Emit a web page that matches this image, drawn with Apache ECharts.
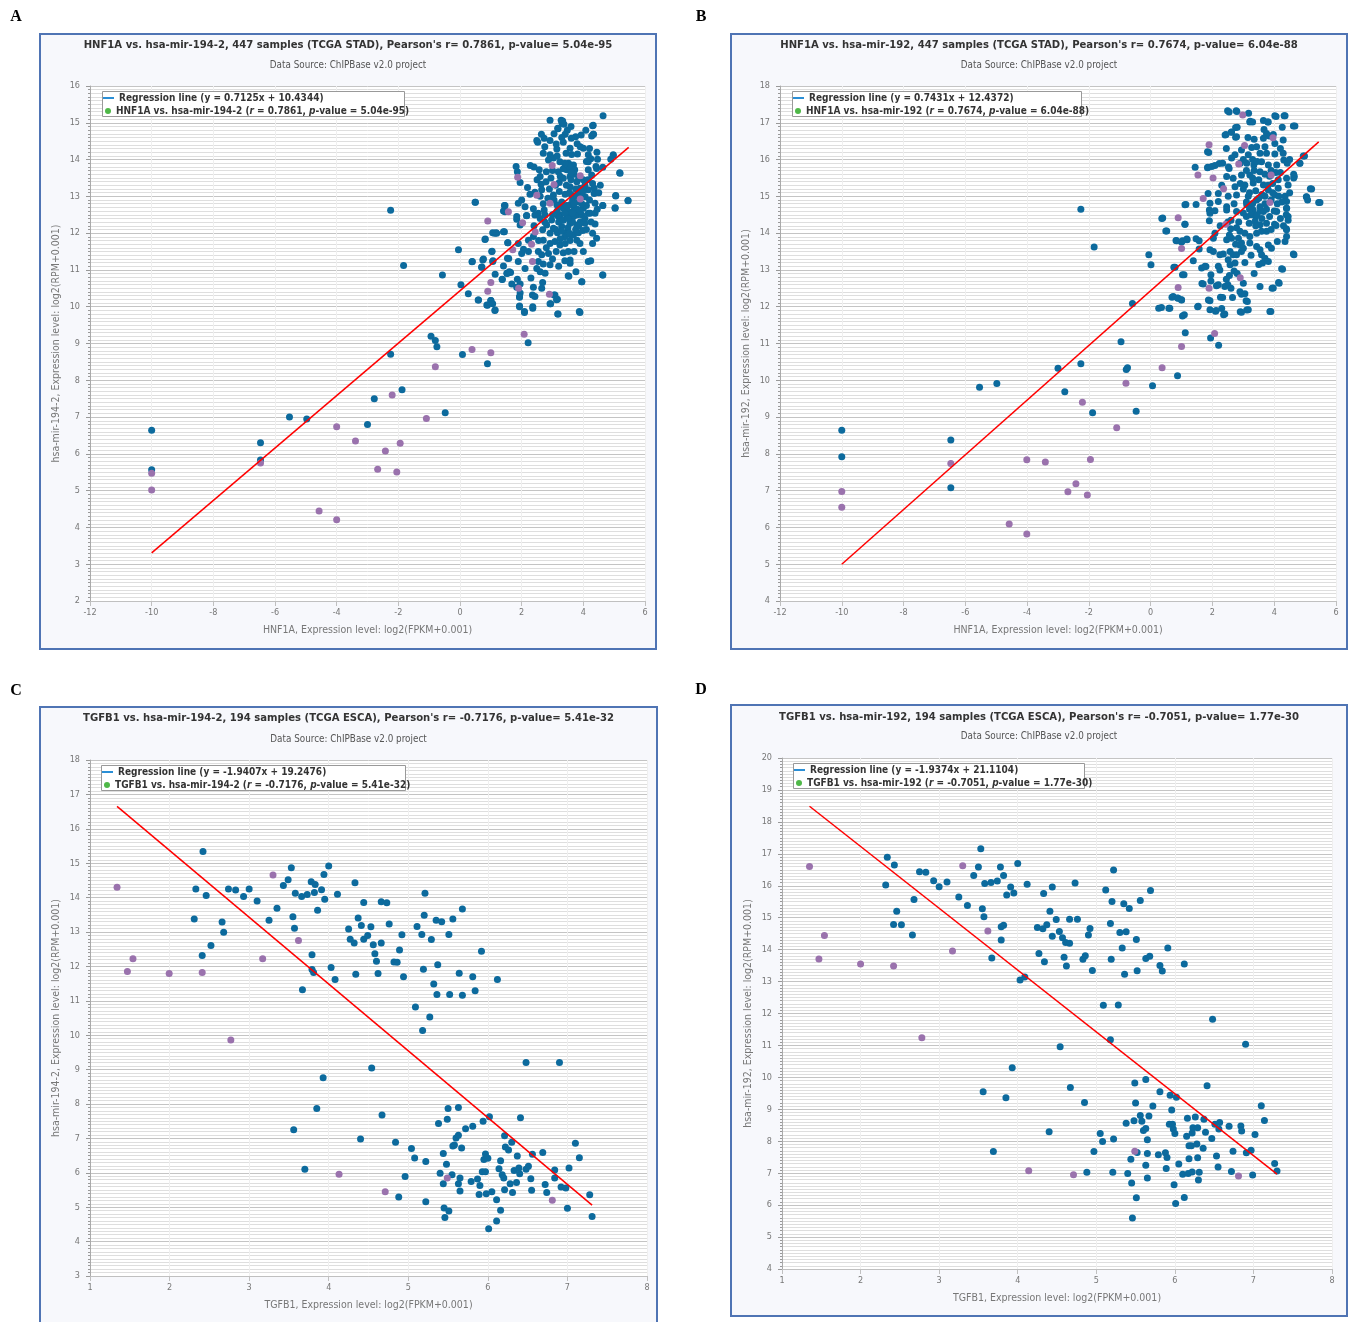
<!DOCTYPE html>
<html><head><meta charset="utf-8">
<script src="https://cdn.jsdelivr.net/npm/echarts@6/dist/echarts.min.js"></script>
<style>html,body{margin:0;padding:0;background:#fff}#c{width:1348px;height:1322px}</style>
</head><body><div id="c"></div>
<script>
// ---------------- DATA ----------------
const titles = [
 "HNF1A vs. hsa-mir-194-2, 447 samples (TCGA STAD), Pearson's r= 0.7861, p-value= 5.04e-95",
 "HNF1A vs. hsa-mir-192, 447 samples (TCGA STAD), Pearson's r= 0.7674, p-value= 6.04e-88",
 "TGFB1 vs. hsa-mir-194-2, 194 samples (TCGA ESCA), Pearson's r= -0.7176, p-value= 5.41e-32",
 "TGFB1 vs. hsa-mir-192, 194 samples (TCGA ESCA), Pearson's r= -0.7051, p-value= 1.77e-30"
];
const subtitle = "Data Source: ChIPBase v2.0 project";
const panelLetters = ["A","B","C","D"];
const xNames = ["HNF1A, Expression level: log2(FPKM+0.001)","HNF1A, Expression level: log2(FPKM+0.001)","TGFB1, Expression level: log2(FPKM+0.001)","TGFB1, Expression level: log2(FPKM+0.001)"];
const yNames = ["hsa-mir-194-2, Expression level: log2(RPM+0.001)","hsa-mir-192, Expression level: log2(RPM+0.001)","hsa-mir-194-2, Expression level: log2(RPM+0.001)","hsa-mir-192, Expression level: log2(RPM+0.001)"];
const regTexts = ["Regression line (y = 0.7125x + 10.4344)","Regression line (y = 0.7431x + 12.4372)","Regression line (y = -1.9407x + 19.2476)","Regression line (y = -1.9374x + 21.1104)"];
const pairNames = ["HNF1A vs. hsa-mir-194-2","HNF1A vs. hsa-mir-192","TGFB1 vs. hsa-mir-194-2","TGFB1 vs. hsa-mir-192"];
const rValues = ["0.7861","0.7674","-0.7176","-0.7051"];
const pValues = ["5.04e-95","6.04e-88","5.41e-32","1.77e-30"];

const xRanges = [[-12,6,2],[-12,6,2],[1,8,1],[1,8,1]];
const yRanges = [[2,16,1],[4,18,1],[3,18,1],[4,20,1]];

const aReg = [[-10,3.31],[5.47,14.33]];
const bReg = [[-10,5.0],[5.44,16.48]];
const cReg = [[1.34,16.65],[7.31,5.06]];
const dReg = [[1.35,18.49],[7.30,6.97]];

const aBlue = [[-10,6.64],[-10,5.57],[-6.47,6.30],[-6.47,5.83],[-5.53,7.0],[-4.97,6.95],[-3.0,6.80],[-2.78,7.50],[-2.25,12.62],[-2.25,8.71],[-1.83,11.12],[-1.88,7.74],[-0.94,9.20],[-0.80,9.08],[-0.75,8.91],[-0.57,10.86],[-0.48,7.12],[-0.05,11.55],[0.03,10.60],[0.08,8.70],[0.27,10.35],[0.39,11.22],[0.50,12.84],[0.59,10.18],[0.71,11.08],[0.76,11.30],[0.82,11.84],[0.89,8.45],[0.89,10.04],[1.0,10.17],[1.04,11.51],[1.07,11.25],[1.13,9.90],[1.12,12.0],[1.19,12.0],[1.37,10.74],[1.46,12.75],[1.46,12.6],[1.44,12.04],[1.55,11.74],[1.58,11.31],[1.53,10.9],[1.64,10.93],[2.21,9.02],
[4.64,15.19],[5.45,12.89],[5.18,13.64],[5.05,13.01],[5.03,12.68],[4.97,14.13],[4.63,12.75],[4.63,10.86],[4.32,14.93],[4.32,14.69],[3.95,10.68],[3.89,9.84],[3.18,9.80],[3.53,10.83],[3.13,10.19],[3.05,10.32],[2.94,10.08],[2.36,9.96],[2.09,9.84],[1.93,10.02],[1.93,10.27],[2.92,15.07],[3.31,14.99],[3.28,15.07],[3.18,14.84],[4.27,14.64],[4.44,14.2],
[3.33,15.05],[3.37,14.96],[3.17,14.85],[3.48,14.80],[4.08,14.80],[4.30,14.92],[4.33,14.69],[3.93,14.67],[3.75,14.62],[3.61,14.58],[3.41,14.69],[3.30,14.60],[2.64,14.69],[2.73,14.58],[2.49,14.52],[2.52,14.47],[2.92,14.52],[3.12,14.42],[3.14,14.29],[3.35,14.47],[3.80,14.43],[3.57,14.31],[4.0,14.31],[3.44,14.17],[3.62,14.14],[3.81,14.15],[4.16,14.13],[4.24,14.02],[4.46,14.01],[4.97,14.11],[4.89,14.01],[2.70,14.17],[2.92,14.13],[3.03,14.04],[2.87,13.99],[3.24,13.94],[3.52,13.90],[3.68,13.85],[4.16,13.94],[4.41,13.81],[4.63,13.79],[1.82,13.81],[1.86,13.67],[2.28,13.84],[2.57,13.72],[2.80,13.67],[3.19,13.67],[3.46,13.72],[3.72,13.72],[4.0,13.45],[4.16,13.72],[4.27,13.58],[4.43,13.76],[5.19,13.63],[1.95,13.38],[2.60,13.54],[2.63,13.33],[2.79,13.40],[3.22,13.38],[3.35,13.49],[3.57,13.54],[3.79,13.40],[3.57,13.26],[3.89,13.22],[4.16,13.18],[4.35,13.22],[4.35,13.08],[2.19,13.24],[2.27,13.06],[2.43,13.11],[2.65,13.18],[3.03,13.04],[3.22,13.13],[3.41,13.06],[3.62,13.04],[3.84,13.11],[4.06,12.99],[5.05,13.02],[5.45,12.88],[5.03,12.69],[4.63,12.75],[4.38,12.81],[2.0,12.90],[1.89,12.81],[1.44,12.75],[1.41,12.60],[0.49,12.84],[2.11,12.72],[2.38,12.66],[2.54,12.54],[2.73,12.63],[3.14,12.77],[3.35,12.68],[3.57,12.77],[3.70,12.63],[4.0,12.68],[4.16,12.54],[3.25,12.49],[3.51,12.49],[3.79,12.49],[1.84,12.45],[2.16,12.48],
[1.46,12.58],[1.84,12.38],[1.95,12.22],[2.16,12.47],[2.43,12.49],[2.60,12.40],[2.76,12.49],[2.97,12.36],[3.19,12.45],[3.46,12.49],[3.68,12.45],[3.95,12.49],[4.22,12.54],[4.38,12.54],[4.38,12.25],[4.05,12.27],[3.79,12.22],[3.57,12.27],[3.30,12.18],[3.03,12.13],[2.81,12.22],[2.68,12.09],[2.92,12.0],[3.16,12.01],[3.46,12.0],[3.68,11.95],[3.84,12.01],[3.98,12.07],[1.06,12.01],[1.17,12.01],[1.41,12.04],[0.81,11.83],[2.38,11.91],[2.22,11.81],[1.89,11.72],[1.55,11.74],[2.70,11.81],[2.92,11.72],[3.08,11.77],[3.24,11.68],[3.41,11.72],[3.57,11.80],[3.79,11.81],[3.89,11.72],[4.30,11.72],[4.43,11.86],[1.03,11.50],[2.06,11.56],[2.0,11.45],[2.22,11.50],[2.54,11.50],[2.65,11.41],[2.87,11.45],[3.12,11.50],[3.35,11.47],[3.51,11.50],[0.40,11.23],[0.74,11.27],[1.06,11.23],[1.54,11.32],[1.89,11.23],[2.54,11.23],[2.70,11.16],[2.92,11.14],[3.57,11.27],[3.57,11.18],[4.16,11.23],[4.24,11.25],[0.70,11.07],[1.41,11.11],[2.11,11.04],[2.49,11.04],[2.60,10.95],[2.76,10.91],[3.76,10.95],[1.14,10.88],[1.52,10.91],[1.60,10.95],[1.37,10.75],[1.86,10.75],[2.30,10.78],[2.68,10.66],[3.51,10.84],[4.63,10.86],[1.68,10.62],[1.95,10.62],[1.84,10.53],[2.38,10.53],[2.65,10.50],[3.95,10.68],[1.95,10.37],[1.93,10.26],[2.35,10.32],[2.43,10.28],[3.08,10.32],[3.16,10.20],[0.60,10.18],[0.87,10.05],[1.0,10.17],[1.06,10.08],[1.14,9.91],[1.93,10.0],[2.36,10.0],[2.92,10.08],[2.09,9.87],[3.17,9.80],[3.87,9.87],
[3.05,12.9],[3.15,12.6],[3.3,12.85],[3.45,12.75],[3.55,13.1],[3.65,12.9],[3.75,13.2],[3.85,12.85],[3.95,13.0],[3.2,12.3],[3.35,12.35],[3.5,12.15],[3.65,12.3],[3.8,12.65],[3.9,12.3],[4.05,12.4],[3.1,13.3],[3.25,13.55],[3.45,13.3],[3.6,13.45],[3.7,13.6],[3.85,13.5],[4.05,13.3],[4.2,12.9],[3.3,12.05],[3.4,11.9],[3.6,11.95],[3.0,12.5],[3.5,12.6],[3.7,12.8],[3.9,12.6],[4.1,12.75],[3.35,13.75],[3.55,13.8],[3.15,14.1],[2.95,13.5],[2.85,12.95],[3.25,11.85],[2.75,12.3],[4.1,13.95],
[2.6,13.0],[2.7,12.8],[2.9,13.2],[3.0,13.7],[3.1,12.1],[3.2,12.75],[3.4,12.55],[3.4,13.9],[3.5,12.4],[3.55,12.0],[3.6,13.65],[3.65,12.55],[3.75,12.1],[3.8,13.0],[3.85,12.2],[3.95,12.8],[4.0,13.15],[4.1,12.1],[4.15,13.45],[4.25,12.3],[4.3,13.35],[4.3,12.0],[4.45,12.65],[4.5,13.1],[2.4,12.2],[2.55,11.8],[2.8,11.6],[3.0,11.3],[3.2,11.1],[3.4,11.25],[3.7,11.5],[4.0,11.5],[2.5,13.45],[2.4,13.8],[2.75,14.35],[3.05,14.7],[3.6,14.9],[3.9,14.35],[4.2,14.3],[4.55,13.3]];
const aPurple = [[-10,5.47],[-10,5.02],[-6.47,5.75],[0.9,12.33],[1.0,10.66],[0.9,10.42],[0.39,8.84],[1.0,8.75],[-0.8,8.37],[2.08,9.25],[-2.2,7.6],[-1.09,6.96],[-4.0,6.74],[-3.39,6.35],[-2.42,6.08],[-1.94,6.29],[-2.67,5.58],[-2.05,5.51],[-4.57,4.45],[-4.0,4.21],[1.57,12.58],[2.03,12.28],[1.71,11.55],[1.90,10.5],[2.35,11.23],[2.32,11.70],[2.44,12.03],[2.90,10.34],[2.49,13.03],[3.05,13.32],[2.92,12.81],[2.99,13.84],[1.87,13.52],[3.9,13.56],[3.9,12.93]];

const bBlue = [[-10,8.64],[-10,7.92],[-6.47,8.38],[-6.47,7.08],[-5.54,9.81],[-4.98,9.91],[-3.0,10.33],[-2.78,9.69],[-2.26,14.65],[-2.26,10.45],[-1.83,13.62],[-1.88,9.12],[-0.96,11.05],[-0.79,10.29],[-0.75,10.34],[-0.59,12.09],[-0.47,9.16],[-0.06,13.41],[0.01,13.14],[0.06,9.85],[0.36,14.40],[0.26,11.96],[0.49,14.06],[0.59,11.96],[0.69,12.26],[0.75,13.07],[0.82,13.80],[0.87,10.12],[0.87,12.24],[1.0,12.18],[1.03,11.75],[1.03,12.87],[1.0,13.76],[1.11,14.77],[1.11,14.24],[1.12,11.29],[1.17,13.84],
[5.44,14.83],[5.17,15.21],[5.04,14.99],[4.98,16.10],[4.83,15.90],[4.62,16.91],[4.62,13.43],[4.63,15.60],[4.63,15.50],[4.39,14.50],[4.39,14.12],[4.24,13.03],[4.14,12.66],[4.01,14.24],[3.93,12.50],[3.86,11.87],[3.11,11.91],[3.09,12.16],[2.90,11.86],[2.94,12.34],[2.36,11.78],[2.10,11.88],[2.20,10.95],[1.94,11.15],[1.87,12.18],[1.52,12.0],[1.66,12.63],[2.13,12.57],[1.79,13.09],[2.26,12.26],[2.49,17.33],[2.77,17.33],[3.17,17.26],[4.02,17.19],[4.32,17.19],[3.65,17.06],[3.80,17.02],[3.22,17.04],[2.75,16.87],[2.41,16.67],[2.61,16.74],[2.75,16.61],[1.84,16.21],[1.44,15.79],[1.85,15.79],[2.22,15.89],[2.52,15.80],
[2.54,17.29],[2.79,17.31],[3.21,17.02],[3.30,17.02],[3.80,17.02],[4.06,17.17],[4.35,17.19],[4.67,16.91],[4.26,16.88],[2.80,16.88],[2.62,16.75],[2.44,16.68],[2.78,16.62],[3.67,16.82],[3.75,16.71],[3.84,16.64],[3.97,16.68],[3.65,16.58],[4.29,16.53],[3.35,16.55],[4.02,16.44],[1.88,16.19],[3.27,16.33],[3.43,16.35],[2.94,16.26],[2.73,16.13],[2.62,16.04],[3.16,16.13],[3.54,16.17],[3.75,16.17],[4.02,16.15],[4.29,16.17],[4.94,16.10],[4.83,15.90],[2.33,15.90],[2.08,15.84],[1.84,15.78],[1.98,15.81],[2.54,15.76],[3.11,15.90],[3.34,15.85],[3.59,15.94],[3.81,15.85],[4.08,15.85],[4.31,15.99],[4.42,15.90],[2.46,15.54],[2.67,15.49],[2.94,15.58],[3.21,15.58],[3.54,15.67],[4.13,15.45],[4.40,15.49],[4.65,15.54],[2.73,15.26],[3.05,15.31],[3.32,15.36],[3.65,15.31],[3.81,15.17],[4.13,15.22],[4.45,15.31],[5.21,15.20],[1.86,15.08],[2.19,15.08],[2.51,15.0],[2.78,15.04],[3.16,15.0],[3.43,14.90],[3.70,15.0],[4.02,15.04],[4.35,15.0],[5.05,14.98],[5.08,14.90],[5.48,14.83],[1.14,14.78],[1.47,14.78],[1.92,14.81],[2.19,14.86],[2.46,14.72],[3.11,14.77],[3.54,14.72],[4.40,14.86],[4.40,14.68],[1.90,14.63],[2.08,14.61],[2.46,14.63],[2.78,14.59],[3.32,14.63],[3.65,14.59],[4.08,14.59],
[0.39,14.41],[0.52,14.06],[1.11,14.24],[1.90,14.34],[1.92,14.54],[2.59,14.12],[2.78,14.15],[2.89,14.05],[3.1,14.45],[3.25,14.5],[3.4,14.45],[3.55,14.6],[3.75,14.65],[4.0,14.6],[4.4,14.68],[4.45,14.45],[4.45,14.35],[3.19,14.27],[3.38,14.32],[3.54,14.23],[3.75,14.27],[4.06,14.21],[4.40,14.09],[3.05,14.0],[3.21,13.91],[3.43,14.0],[3.59,14.05],[2.08,14.0],[2.03,13.86],[2.46,13.82],[2.62,13.86],[2.84,13.86],[2.94,13.73],[0.84,13.79],[1.03,13.79],[1.18,13.82],[1.47,13.85],[1.57,13.79],[1.57,13.57],[1.92,13.55],[2.03,13.50],[2.35,13.43],[2.24,13.41],[2.57,13.50],[2.67,13.41],[2.89,13.68],[3.0,13.59],[3.21,13.73],[3.43,13.64],[3.54,13.55],[3.81,13.68],[3.91,13.59],[4.10,13.77],[4.35,13.77],[4.40,13.91],[4.64,13.41],[3.59,13.41],[3.70,13.32],[1.38,13.25],[1.65,13.05],[1.76,13.10],[2.19,13.10],[2.24,13.0],[2.51,13.28],[2.57,13.14],[2.78,13.41],[2.73,13.19],[2.94,13.50],[2.7,12.97],[2.55,12.85],[2.45,12.75],[2.5,12.6],[2.4,12.55],[2.6,12.5],[0.79,13.07],[1.08,12.87],[1.95,12.87],[1.95,12.70],[1.70,12.62],[2.19,12.60],[3.0,12.64],[2.89,12.41],[3.54,12.55],[3.62,13.19],[3.81,13.23],[4.27,13.02],[4.16,12.64],[3.97,12.51],[0.73,12.28],[0.89,12.23],[1.0,12.19],[0.35,11.98],[0.62,11.96],[1.09,11.78],[1.54,12.01],[1.92,12.16],[1.92,11.92],[2.33,12.25],[2.3,11.95],[2.12,11.9],[2.4,11.8],[2.94,11.85],[3.16,11.92],[3.13,12.14],[3.89,11.87],
[3.0,15.2],[3.2,15.1],[3.4,15.15],[3.6,15.05],[3.8,15.3],[3.95,15.1],[3.1,14.85],[3.3,14.8],[3.5,14.95],[3.7,14.8],[3.9,14.9],[4.1,14.8],[3.0,14.55],[3.2,14.65],[3.45,14.5],[3.85,14.45],[4.2,14.4],[3.3,15.5],[3.5,15.45],[3.7,15.6],[3.9,15.7],[4.2,15.65],[3.1,15.7],[2.9,15.9],[3.3,16.0],[3.7,16.35],[3.4,14.2],[3.9,14.1],[4.25,14.85],[2.85,14.3],
[2.6,14.35],[2.7,14.8],[2.9,15.35],[3.0,16.0],[3.15,16.6],[3.35,15.7],[3.45,15.95],[3.6,14.4],[3.75,14.05],[3.85,15.55],[3.95,15.35],[4.05,15.65],[4.15,15.0],[4.2,16.3],[4.3,14.2],[4.5,15.1],[4.5,16.0],[2.5,14.3],[2.55,13.95],[2.75,13.7],[3.05,13.2],[3.25,13.4],[3.35,12.9],[3.5,13.15],[2.8,12.9],[2.65,12.25],[3.05,12.35],[2.25,14.2],[2.3,15.3],[2.45,16.3]];
const bPurple = [[-10,6.98],[-10,6.55],[-6.47,7.74],[0.89,14.42],[1.0,13.58],[0.89,12.52],[1.0,10.92],[0.37,10.34],[-0.80,9.92],[-2.21,9.40],[-1.10,8.71],[-4.01,7.84],[-3.41,7.78],[-1.95,7.85],[-2.42,7.19],[-2.68,6.97],[-2.05,6.88],[-4.58,6.09],[-4.01,5.82],[1.53,15.58],[1.70,14.94],[1.89,16.40],[2.02,15.50],[1.89,12.50],[2.07,11.27],[2.36,15.21],[2.43,14.24],[2.85,15.88],[2.90,12.79],[2.98,17.21],[3.04,16.38],[3.86,14.83],[3.96,16.59],[3.90,15.58]];

const cBlue = [[2.42,15.34],[2.31,13.38],[2.33,14.25],[2.46,14.06],[2.41,12.32],[2.52,12.61],[2.66,13.29],[2.68,12.99],[2.74,14.25],[2.83,14.22],[2.93,14.03],[3.0,14.25],[3.10,13.90],[3.25,13.34],[3.35,13.69],[3.43,14.35],[3.49,14.52],[3.53,14.87],[3.55,13.44],[3.57,13.11],[3.58,14.13],[3.66,14.03],[3.67,11.32],[3.73,14.09],[3.78,14.46],[3.83,14.38],[3.82,14.15],[3.79,12.34],[3.79,11.91],[3.81,11.82],[3.86,13.63],[3.91,14.23],[3.94,14.67],[3.95,13.95],[4.0,14.92],[4.03,11.97],[4.08,11.62],[4.11,14.10],[4.25,13.09],[4.27,12.79],[4.32,12.68],[4.33,14.43],[4.34,11.77],[4.37,13.41],[4.41,13.19],[4.44,13.86],[4.44,12.79],[4.49,12.90],[4.53,13.15],[4.56,12.63],[4.58,12.37],[4.60,12.15],[4.62,11.79],[4.66,13.88],[4.66,12.68],[4.73,13.85],[4.76,13.23],[4.82,12.13],[4.86,12.12],[4.89,12.48],[4.92,12.92],[4.94,11.70],[5.09,10.82],[5.11,13.16],[5.17,12.93],[5.18,10.14],[5.19,11.92],[5.20,13.49],[5.21,14.13],[5.27,10.53],[5.29,12.78],[5.32,11.49],[5.35,13.34],[5.36,11.18],[5.37,12.05],[5.42,13.30],[5.51,12.93],[5.52,11.18],[5.56,13.38],[5.64,11.80],[5.68,13.67],[5.68,11.16],[5.81,11.70],[5.84,11.29],[5.92,12.44],[6.12,11.62],
[3.56,7.25],[3.70,6.10],[3.85,7.87],[3.93,8.76],[4.40,6.98],[4.54,9.05],[4.67,7.68],[4.84,6.89],[4.88,5.30],[4.96,5.89],[5.04,6.71],[5.08,6.43],[5.22,5.16],[5.22,6.33],[5.38,7.43],[5.40,5.99],[5.44,6.56],[5.44,5.68],[5.45,4.98],[5.46,4.70],[5.48,6.25],[5.49,7.56],[5.50,7.87],[5.51,4.89],[5.55,5.94],[5.56,6.78],[5.58,6.81],[5.60,7.01],[5.63,7.09],[5.63,7.90],[5.63,5.68],[5.65,5.85],[5.65,5.47],[5.67,6.72],[5.72,7.28],[5.79,5.75],[5.81,7.35],[5.87,5.82],[5.89,5.37],[5.90,5.63],[5.93,6.03],[5.94,7.50],[5.95,6.39],[5.97,6.55],[5.97,6.03],[5.98,5.39],[6.0,6.42],[6.01,4.37],[6.02,7.63],[6.05,5.45],[6.11,5.22],[6.11,4.60],[6.14,6.12],[6.16,6.35],[6.16,4.91],[6.18,5.94],[6.20,5.85],[6.21,7.08],[6.21,5.51],[6.22,6.75],[6.26,6.66],[6.28,5.68],[6.30,6.89],[6.31,5.43],[6.33,6.07],[6.36,5.72],[6.37,6.49],[6.39,6.14],[6.40,5.97],[6.41,7.60],[6.48,6.10],[6.48,9.21],[6.51,6.19],[6.54,5.83],[6.55,5.49],[6.56,6.54],[6.69,6.59],[6.72,5.66],[6.74,5.43],[6.84,6.08],[6.84,5.85],[6.90,9.21],[6.92,5.59],[6.98,5.56],[7.0,4.97],[7.02,6.14],[7.10,6.86],[7.15,6.44],[7.28,5.36],[7.31,4.73]];
const cPurple = [[1.34,14.30],[1.47,11.85],[1.54,12.22],[1.995,11.79],[2.41,11.82],[2.77,9.86],[3.17,12.22],[3.30,14.66],[3.62,12.75],[4.13,5.96],[4.71,5.45],[5.49,5.85],[6.81,5.20]];

const dBlue = [[2.34,16.89],[2.43,16.65],[2.32,16.02],[2.42,14.79],[2.46,15.20],[2.52,14.78],[2.68,15.57],[2.66,14.46],[2.75,16.44],[2.83,16.42],[2.93,16.16],[3.0,15.97],[3.10,16.12],[3.25,15.65],[3.36,15.38],[3.44,16.32],[3.50,16.59],[3.53,17.16],[3.55,15.28],[3.57,15.03],[3.58,16.07],[3.66,16.10],[3.67,13.74],[3.74,16.15],[3.78,16.59],[3.79,14.72],[3.82,14.76],[3.82,16.32],[3.79,14.30],[3.56,9.55],[3.86,15.71],[3.91,15.96],[3.95,15.77],[4.0,16.70],[4.03,13.05],[4.09,13.14],[4.12,16.05],[4.25,14.69],[4.27,13.88],[4.32,14.65],[4.33,15.76],[4.34,13.62],[4.37,14.78],[4.41,15.20],[4.44,14.42],[4.44,15.96],[4.49,14.94],[4.53,14.57],[4.57,14.37],[4.59,13.76],[4.61,14.22],[4.62,13.49],[4.66,14.20],[4.66,14.95],[4.73,16.09],[4.76,14.95],[4.83,13.70],[4.86,13.81],[4.90,14.46],[4.92,14.66],[4.95,13.35],[5.09,12.26],[5.12,15.87],[5.18,14.82],[5.19,13.70],[5.20,15.51],[5.22,16.49],[5.18,11.18],[5.28,12.27],[5.30,14.54],[5.33,14.05],[5.35,15.44],[5.36,13.23],[5.38,14.56],[5.42,15.29],[5.51,14.32],[5.52,13.34],[5.56,15.54],[5.63,13.72],[5.68,13.79],[5.69,15.85],[5.81,13.50],[5.84,13.33],[5.91,14.05],[6.12,13.55],
[6.48,11.82],[6.90,11.04],[4.54,10.96],[3.93,10.30],[3.85,9.36],[3.69,7.68],[4.40,8.30],[4.67,9.68],[4.85,9.21],[4.97,7.68],[4.88,7.03],[5.05,8.24],[5.08,7.99],[5.22,8.07],[5.21,7.03],[5.38,8.56],[5.40,6.99],[5.44,7.44],[5.45,6.69],[5.46,5.60],[5.48,8.64],[5.49,9.82],[5.50,9.20],[5.51,6.23],[5.52,7.65],[5.56,8.81],[5.58,8.63],[5.60,8.34],[5.63,8.40],[5.63,7.25],[5.63,9.93],[5.65,8.05],[5.65,7.62],[5.65,6.85],[5.67,8.79],[5.72,9.10],[5.79,7.58],[5.81,9.55],[5.88,7.64],[5.89,7.15],[5.90,7.49],[5.93,8.53],[5.94,9.44],[5.96,8.98],[5.97,8.53],[5.98,8.38],[5.99,6.64],[6.0,8.24],[6.01,6.05],[6.02,9.38],[6.05,7.29],[6.10,6.97],[6.12,6.24],[6.15,8.16],[6.16,8.72],[6.17,6.99],[6.18,7.45],[6.18,7.86],[6.21,7.86],[6.22,8.26],[6.22,7.04],[6.23,8.42],[6.26,8.76],[6.28,7.91],[6.29,8.42],[6.29,7.48],[6.30,6.79],[6.31,7.03],[6.36,7.78],[6.37,8.69],[6.39,8.28],[6.41,9.74],[6.47,8.09],[6.51,8.53],[6.53,7.54],[6.55,7.19],[6.56,8.38],[6.57,8.59],[6.69,8.47],[6.72,7.05],[6.74,7.69],[6.84,8.48],[6.85,8.32],[6.91,7.64],[6.97,7.72],[6.99,6.94],[7.02,8.21],[7.10,9.11],[7.14,8.65],[7.27,7.30],[7.30,7.07]];
const dPurple = [[1.35,16.60],[1.54,14.44],[1.47,13.71],[2.0,13.55],[2.42,13.49],[2.78,11.24],[3.17,13.96],[3.30,16.63],[3.62,14.58],[4.14,7.08],[4.71,6.95],[5.49,7.69],[6.81,6.91]];

// ---------------- LAYOUT ----------------
const FONT = "'Liberation Sans Narrow','DejaVu Sans Condensed','Liberation Sans',sans-serif";
const SERIF = "'Liberation Serif','DejaVu Serif',serif";
const BLUE = '#0c6a9d', PURPLE = '#9a72ad';
const layouts = [
 {grid:[90,86,555,515], frame:[40,34,616,615], letter:[16,17], titleY:45, subY:65, box:[102,91,302,25], yGap:28},
 {grid:[780,86,556,515], frame:[731,34,616,615], letter:[701,17], titleY:45, subY:65, box:[792,91,289,25], yGap:28},
 {grid:[90,760,557,516], frame:[40,707,617,616], letter:[16,691], titleY:718, subY:739, box:[101,765,304,25], yGap:28},
 {grid:[782,758,550,511], frame:[731,705,616,611], letter:[701,690], titleY:717, subY:736, box:[793,763,291,25], yGap:28}
];
const blues = [aBlue,bBlue,cBlue,dBlue];
const purples = [aPurple,bPurple,cPurple,dPurple];
const regs = [aReg,bReg,cReg,dReg];

const option = {animation:false, backgroundColor:'#ffffff', grid:[], xAxis:[], yAxis:[], series:[], legend:[], graphic:{elements:[]}};
const G = option.graphic.elements;

layouts.forEach((L,i)=>{
  const [gl,gt,gw,gh] = L.grid;
  const [fx,fy,fw,fh] = L.frame;
  G.push({type:'rect', id:'frame'+i, silent:true, z:-20, shape:{x:fx,y:fy,width:fw,height:fh}, style:{fill:'#f7f8fc', stroke:'#4f74b4', lineWidth:2}});
  G.push({type:'text', id:'letter'+i, silent:true, z:10, x:L.letter[0], y:L.letter[1], style:{text:panelLetters[i], font:'bold 16px '+SERIF, fill:'#000', textAlign:'center', textVerticalAlign:'middle'}});
  G.push({type:'text', id:'title'+i, silent:true, z:10, x:fx+fw/2, y:L.titleY, style:{text:titles[i], font:'bold 11.2px '+FONT, fill:'#333', textAlign:'center', textVerticalAlign:'middle'}});
  G.push({type:'text', id:'sub'+i, silent:true, z:10, x:fx+fw/2, y:L.subY, style:{text:subtitle, font:'9.8px '+FONT, fill:'#555', textAlign:'center', textVerticalAlign:'middle'}});
  const [bx,by,bw,bh] = L.box;
  G.push({type:'rect', id:'box'+i, silent:true, z:5, shape:{x:bx+0.5,y:by+0.5,width:bw,height:bh}, style:{fill:'#ffffff', stroke:'#999', lineWidth:1}});

  option.grid.push({left:gl, top:gt, width:gw, height:gh, show:true, backgroundColor:'#ffffff', borderWidth:0});
  const xr = xRanges[i], yr = yRanges[i];
  option.xAxis.push({type:'value', gridIndex:i, min:xr[0], max:xr[1], interval:xr[2],
    name:xNames[i], nameLocation:'middle', nameGap:24, nameTextStyle:{fontFamily:FONT, fontSize:10.5, color:'#777'},
    axisLine:{show:true, onZero:false, lineStyle:{color:'#c0c0c0', width:1}},
    axisTick:{show:true, length:5, lineStyle:{color:'#c0c0c0'}},
    axisLabel:{fontFamily:FONT, fontSize:9, color:'#777', margin:7},
    splitLine:{show:true, lineStyle:{color:'#efefef'}}});
  option.yAxis.push({type:'value', gridIndex:i, min:yr[0], max:yr[1], interval:yr[2],
    name:yNames[i], nameLocation:'middle', nameGap:L.yGap, nameTextStyle:{fontFamily:FONT, fontSize:10.5, color:'#777'},
    axisLine:{show:true, onZero:false, lineStyle:{color:'#aaaaaa', width:1}},
    axisTick:{show:true, length:4, lineStyle:{color:'#999'}},
    minorTick:{show:true, splitNumber:10, length:2, lineStyle:{color:'#999'}},
    axisLabel:{fontFamily:FONT, fontSize:9, color:'#777', margin:10},
    splitLine:{show:true, lineStyle:{color:'#c4c4c4', width:1}},
    minorSplitLine:{show:true, lineStyle:{color:'#dedede', width:1}}});

  const regName = 'reg'+i, scName = 'sc'+i;
  option.series.push({type:'scatter', name:scName, xAxisIndex:i, yAxisIndex:i, data:blues[i], symbolSize:7, itemStyle:{color:BLUE, opacity:1}, z:2});
  option.series.push({type:'scatter', name:'pu'+i, xAxisIndex:i, yAxisIndex:i, data:purples[i], symbolSize:7, itemStyle:{color:PURPLE, opacity:1}, z:3});
  option.series.push({type:'line', name:regName, xAxisIndex:i, yAxisIndex:i, data:regs[i], showSymbol:false, symbol:'none', lineStyle:{color:'#ff0000', width:1.5}, itemStyle:{color:'#ff0000'}, z:4});

  const ts = {fontFamily:FONT, fontSize:10, fontWeight:'bold', color:'#333'};
  option.legend.push({left:bx+1, top:by+1, z:8, padding:0, itemWidth:11, itemHeight:2, icon:'rect', selectedMode:false,
    data:[{name:regName, icon:'rect', itemStyle:{color:'#2b8fd6'}, lineStyle:{color:'#2b8fd6'}}],
    formatter:()=>regTexts[i], textStyle:Object.assign({lineHeight:12}, ts)});
  const it = Object.assign({}, ts, {fontStyle:'italic'});
  option.legend.push({left:bx+3, top:by+14, z:8, padding:0, itemWidth:6, itemHeight:6, icon:'circle', selectedMode:false,
    data:[{name:scName, icon:'circle', itemStyle:{color:'#4fb848'}}],
    formatter:()=>'{a|'+pairNames[i]+' (}{i|r}{a| = '+rValues[i]+', }{i|p}{a|-value = '+pValues[i]+')}',
    textStyle:Object.assign({lineHeight:12, rich:{a:Object.assign({},ts), i:it}}, ts)});
});

const chart = echarts.init(document.getElementById('c'), null, {renderer:'canvas'});
chart.setOption(option);
</script>
</body></html>
